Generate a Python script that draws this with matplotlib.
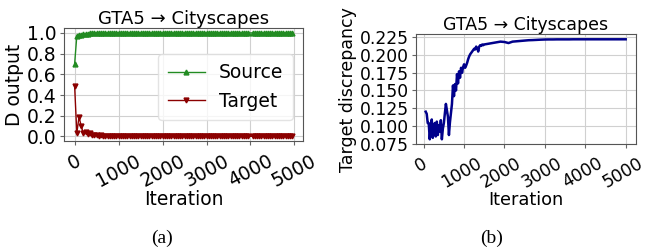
import numpy as np
import matplotlib
matplotlib.use("Agg")
import matplotlib.pyplot as plt
import matplotlib.transforms as mtransforms

# (a) discriminator output, logged every 50 iterations (4000 missing)
iters_a = [i for i in range(0, 5000, 50) if i != 4000]
source = [0.70, 0.97, 0.975, 0.98, 0.985, 0.99, 0.99, 0.995, 0.995, 0.998,
          1.0, 0.999, 1.0, 1.0, 0.999, 1.0, 1.0, 1.0, 0.999, 1.0,
          1.0, 1.0, 1.0, 0.999, 1.0, 1.0, 1.0, 1.0, 1.0, 0.999,
          1.0, 1.0, 1.0, 1.0, 1.0, 1.0, 0.999, 1.0, 1.0, 1.0,
          1.0, 1.0, 1.0, 1.0, 1.0, 0.999, 1.0, 1.0, 1.0, 1.0,
          1.0, 1.0, 1.0, 1.0, 0.999, 1.0, 1.0, 1.0, 1.0, 1.0,
          1.0, 1.0, 1.0, 1.0, 1.0, 1.0, 1.0, 0.999, 1.0, 1.0,
          1.0, 1.0, 1.0, 1.0, 1.0, 1.0, 1.0, 1.0, 1.0, 0.999,
          1.0, 1.0, 1.0, 1.0, 1.0, 1.0, 1.0, 1.0, 1.0, 1.0,
          1.0, 1.0, 0.999, 1.0, 1.0, 1.0, 1.0, 1.0, 1.0]
target = [0.49, 0.03, 0.19, 0.10, 0.03, 0.04, 0.02, 0.03, 0.01, 0.015,
          0.01, 0.005, 0.01, 0.005, 0.003, 0.004, 0.002, 0.003, 0.002, 0.002,
          0.001, 0.002, 0.001, 0.001, 0.002, 0.001, 0.001, 0.001, 0.001, 0.001,
          0.001, 0.001, 0.001, 0.001, 0.001, 0.001, 0.001, 0.001, 0.001, 0.001,
          0.001, 0.001, 0.001, 0.001, 0.001, 0.001, 0.001, 0.001, 0.001, 0.001,
          0.001, 0.001, 0.001, 0.001, 0.001, 0.001, 0.001, 0.001, 0.001, 0.001,
          0.001, 0.001, 0.001, 0.001, 0.001, 0.001, 0.001, 0.001, 0.001, 0.001,
          0.001, 0.001, 0.001, 0.001, 0.001, 0.001, 0.001, 0.001, 0.001, 0.001,
          0.001, 0.001, 0.001, 0.001, 0.001, 0.001, 0.001, 0.001, 0.001, 0.001,
          0.001, 0.001, 0.001, 0.001, 0.001, 0.001, 0.001, 0.001, 0.001]

# (b) target discrepancy: every 25 iters up to 1500, then every 100
iters_b = list(range(50, 1501, 25)) + list(range(1600, 5001, 100))
discrepancy = [0.120, 0.117, 0.104, 0.104, 0.081, 0.098, 0.109, 0.083, 0.094, 0.104,
               0.085, 0.106, 0.087, 0.101, 0.092, 0.108, 0.081, 0.096, 0.104, 0.118,
               0.131, 0.122, 0.113, 0.087, 0.105, 0.118, 0.131, 0.157, 0.142, 0.159,
               0.150, 0.173, 0.160, 0.177, 0.168, 0.182, 0.175, 0.183, 0.187, 0.182,
               0.185, 0.189, 0.194, 0.198, 0.201, 0.203, 0.205, 0.207, 0.209, 0.208,
               0.212, 0.210, 0.205, 0.212, 0.214, 0.213, 0.215, 0.214, 0.215,
               0.216, 0.217, 0.218, 0.219, 0.2185, 0.217, 0.219, 0.2195, 0.220, 0.2205,
               0.221, 0.2212, 0.2215, 0.2218, 0.222, 0.2221, 0.2221, 0.2222, 0.2222, 0.2222,
               0.2222, 0.2223, 0.2223, 0.2223, 0.2223, 0.2223, 0.2223, 0.2223, 0.2223, 0.2223,
               0.2223, 0.2223, 0.2223, 0.2223, 0.2223]

title = "GTA5 \u2192 Cityscapes"
xticks = [0, 1000, 2000, 3000, 4000, 5000]

plt.rcParams['font.family'] = ['DejaVu Sans']
fig = plt.figure(figsize=(6.47, 2.52), dpi=100)

ax1 = fig.add_axes([0.0985, 0.4385, 0.370, 0.4516])
ax2 = fig.add_axes([0.6425, 0.4274, 0.340, 0.4365])

ax1.plot(iters_a, source, color='forestgreen', marker='^', markersize=3.5, lw=1, label='Source')
ax1.plot(iters_a, target, color='darkred', marker='v', markersize=3.5, lw=1, label='Target')
ax1.set_yticks([0.0, 0.2, 0.4, 0.6, 0.8, 1.0])
ax1.set_ylabel('D output', fontsize=13.5, labelpad=2)
leg = ax1.legend(loc='center right', bbox_to_anchor=(0.957, 0.48), borderaxespad=0,
                 fontsize=13.5, handlelength=2.0, handletextpad=0.75, borderpad=0.5,
                 framealpha=0.8, edgecolor='#dddddd')

ax2.plot(iters_b, discrepancy, color='darkblue', lw=1.8)
ax2.set_yticks([0.075, 0.100, 0.125, 0.150, 0.175, 0.200, 0.225])
ax2.set_ylabel('Target discrepancy', fontsize=12.5, labelpad=2)

# left panel is drawn slightly larger than the right one
sizes = {ax1: (13.5, 13.5, 13, 28), ax2: (12.3, 12.8, 12.5, 30)}
for ax in (ax1, ax2):
    tick_fs, label_fs, title_fs, rot = sizes[ax]
    ax.set_xticks(xticks)
    ax.tick_params(axis='x', labelrotation=rot, labelsize=tick_fs, pad=4)
    ax.tick_params(axis='y', labelsize=tick_fs, pad=2)
    ax.tick_params(length=3, color='#666666')
    ax.grid(True, color='#d0d0d0', lw=0.8)
    ax.set_axisbelow(True)
    for s in ax.spines.values():
        s.set_color('#555555')
    ax.set_title(title, fontsize=title_fs, pad=3)
    ax.set_xlabel('Iteration', fontsize=label_fs, labelpad=0)

# nudge right panel's x labels a touch left so "5000" stays inside the figure
shift = mtransforms.ScaledTranslation(-3 / 100, 0, fig.dpi_scale_trans)
for lbl in ax2.get_xticklabels():
    lbl.set_transform(lbl.get_transform() + shift)

fig.text(0.250, 0.055, '(a)', fontsize=14, family='Liberation Serif', ha='center', va='center')
fig.text(0.760, 0.055, '(b)', fontsize=14, family='Liberation Serif', ha='center', va='center')

fig.savefig('out.png', dpi=100)
